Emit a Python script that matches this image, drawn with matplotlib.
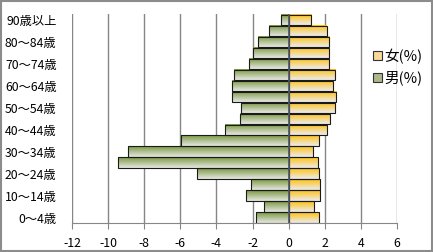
import numpy as np
import matplotlib
matplotlib.use("Agg")
import matplotlib.pyplot as plt
from matplotlib.colors import LinearSegmentedColormap
from matplotlib.patches import Patch, Rectangle

plt.rcParams["font.family"] = ["Noto Sans CJK JP", "DejaVu Sans"]
plt.rcParams["axes.unicode_minus"] = False

age_labels = [
    "0～4歳", "5～9歳", "10～14歳", "15～19歳", "20～24歳", "25～29歳",
    "30～34歳", "35～39歳", "40～44歳", "45～49歳", "50～54歳", "55～59歳",
    "60～64歳", "65～69歳", "70～74歳", "75～79歳", "80～84歳", "85～89歳",
    "90歳以上",
]
male_pct = [-1.79, -1.35, -2.34, -2.07, -5.06, -9.42, -8.87, -5.96, -3.55, -2.69,
            -2.64, -3.12, -3.12, -3.00, -2.21, -1.96, -1.68, -1.07, -0.41]
female_pct = [1.70, 1.42, 1.75, 1.75, 1.70, 1.64, 1.37, 1.70, 2.14, 2.31,
              2.58, 2.64, 2.47, 2.58, 2.25, 2.21, 2.25, 2.10, 1.25]
x_ticks = [-12, -10, -8, -6, -4, -2, 0, 2, 4, 6]

male_cmap = LinearSegmentedColormap.from_list("m", ["#7b9840", "#e6e8e4"])
female_cmap = LinearSegmentedColormap.from_list("f", ["#ffc20e", "#ecebf2"])

fig = plt.figure(figsize=(4.33, 2.52), dpi=100)
fig.patch.set_facecolor("white")
fig.add_artist(Rectangle((0.002, 0.003), 0.995, 0.993, transform=fig.transFigure,
                         fill=False, edgecolor="#8c8c8c", linewidth=1.5))

ax = fig.add_axes([0.166, 0.115, 0.751, 0.829])
y = np.arange(len(age_labels))

grad = np.linspace(0, 1, 64).reshape(-1, 1)
male_bars = ax.barh(y, male_pct, height=0.92, facecolor="none",
                    edgecolor="#1a1a1a", linewidth=0.8, zorder=3)
female_bars = ax.barh(y, female_pct, height=0.92, facecolor="none",
                      edgecolor="#1a1a1a", linewidth=0.8, zorder=3)
for bars, cmap in ((male_bars, male_cmap), (female_bars, female_cmap)):
    for b in bars:
        x0, y0, w, h = b.get_x(), b.get_y(), b.get_width(), b.get_height()
        ax.imshow(grad, extent=[x0, x0 + w, y0, y0 + h], aspect="auto",
                  cmap=cmap, zorder=2, interpolation="bilinear")

ax.axvline(0, color="#4f5668", linewidth=1.2, zorder=4)
ax.set_xlim(-12, 6)
ax.set_ylim(-0.5, len(age_labels) - 0.5)
ax.set_xticks(x_ticks)
ax.set_xticklabels([str(t) for t in x_ticks], fontsize=8.8)
ax.set_yticks(y[::2])
ax.set_yticklabels(age_labels[::2], fontsize=8.8)
ax.tick_params(axis="y", length=0, pad=11)
ax.tick_params(axis="x", length=4, color="#868686", pad=6)
ax.grid(axis="x", color="#868686", linewidth=1.0, zorder=0)
ax.set_axisbelow(True)
for side in ("top", "right", "left"):
    ax.spines[side].set_visible(False)
ax.spines["bottom"].set_color("#868686")

handles = [Patch(facecolor="#f8d99a", edgecolor="#333333", linewidth=0.8),
           Patch(facecolor="#aab88c", edgecolor="#333333", linewidth=0.8)]
fig.legend(handles, ["女(%)", "男(%)"], loc="upper left",
           bbox_to_anchor=(0.848, 0.83), frameon=False, fontsize=10.5,
           handlelength=0.6, handleheight=0.6, handletextpad=0.2,
           labelspacing=0.45, borderaxespad=0)

fig.savefig("out.png", dpi=100)
